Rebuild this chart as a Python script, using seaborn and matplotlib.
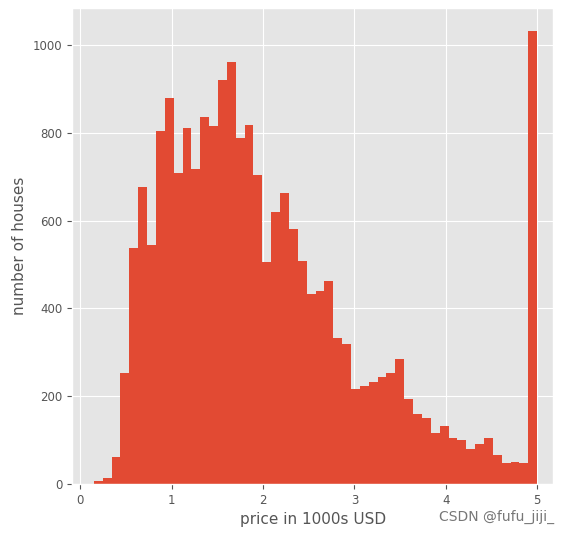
import numpy as np
import pandas as pd
import matplotlib
matplotlib.use("Agg")
import matplotlib.pyplot as plt
import seaborn as sns

# 50 equal bins spanning 0.15..5.0
bin_lo, bin_hi, n_bins = 0.14999, 5.00001, 50
counts = [8, 14, 62, 254, 537, 676, 545, 804, 880, 708,
          812, 717, 835, 815, 920, 960, 788, 818, 705, 506,
          620, 662, 580, 508, 433, 440, 463, 333, 320, 216,
          223, 232, 243, 252, 286, 193, 160, 151, 117, 133,
          106, 100, 81, 91, 106, 66, 48, 51, 48, 1032]

edges = np.linspace(bin_lo, bin_hi, n_bins + 1)
df = pd.DataFrame({"price": (edges[:-1] + edges[1:]) / 2, "count": counts})

plt.style.use("ggplot")
fig = plt.figure(figsize=(5.68, 5.35), dpi=100)
ax = fig.add_axes([0.127, 0.095, 0.847, 0.89])
sns.histplot(data=df, x="price", weights="count", bins=n_bins,
             binrange=(bin_lo, bin_hi), ax=ax,
             color="#E24A33", alpha=1, edgecolor="#E24A33", linewidth=0)
ax.set_xlabel("price in 1000s USD", fontsize=11, labelpad=4)
ax.set_ylabel("number of houses", fontsize=11)
ax.set_ylim(0, 1084)
ax.set_xlim(-0.0875, 5.175)
ax.tick_params(labelsize=8.5)
fig.text(0.975, 0.02, "CSDN @fufu_jiji_", ha="right", va="bottom", fontsize=10, color="#777777")
fig.savefig("out.png", dpi=100)
